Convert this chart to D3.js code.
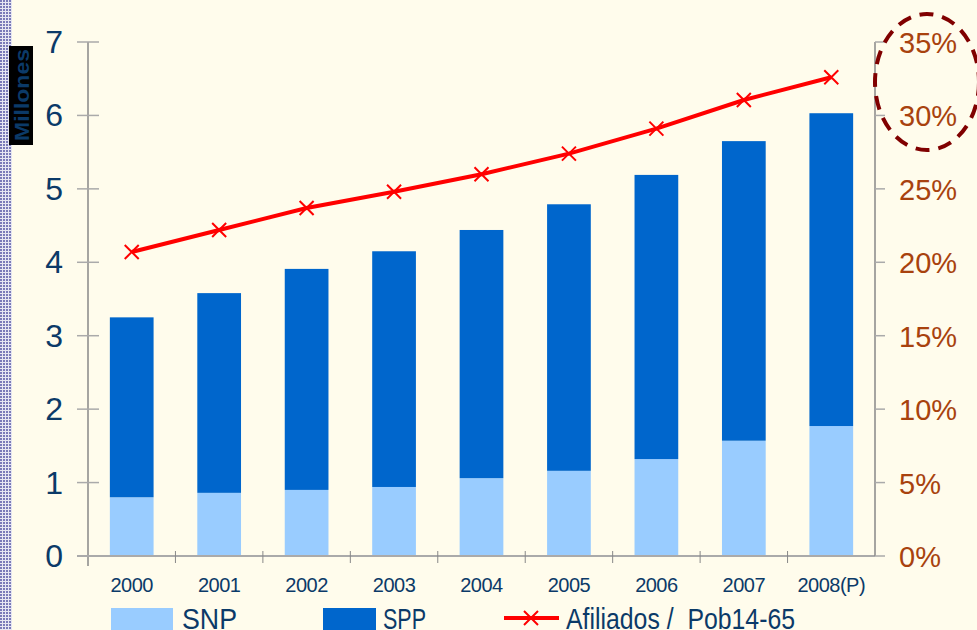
<!DOCTYPE html>
<html lang="es">
<head>
<meta charset="utf-8">
<title>Afiliados SNP / SPP</title>
<script src="https://d3js.org/d3.v7.min.js"></script>
<style>
  body { margin:0; background:#FFFCEC; }
  svg { display:block; font-family:Arial, "Liberation Sans", sans-serif; }
</style>
</head>
<body>
<svg width="977" height="630"></svg>
<script>
// data
var years = ["2000","2001","2002","2003","2004","2005","2006","2007","2008(P)"];
var snp = [0.80, 0.86, 0.90, 0.94, 1.06, 1.16, 1.32, 1.57, 1.77];
var spp = [2.45, 2.72, 3.01, 3.21, 3.38, 3.63, 3.87, 4.08, 4.26];
var ratio = [20.7, 22.2, 23.7, 24.8, 26.0, 27.4, 29.1, 31.05, 32.6];
var leftTicks = [0,1,2,3,4,5,6,7];
var rightTicks = [0,5,10,15,20,25,30,35];

var svg = d3.select("svg");
var pLeft = 88, pRight = 875, pTop = 42, pBottom = 556;

// patterned strip at the left edge
var defs = svg.append("defs");
var pat = defs.append("pattern").attr("id","grid").attr("width",3).attr("height",3)
  .attr("patternUnits","userSpaceOnUse");
pat.append("rect").attr("width",3).attr("height",3).attr("fill","#E6E6F2");
pat.append("rect").attr("width",2).attr("height",2).attr("fill","#7A7AB8");
svg.append("rect").attr("x",0).attr("y",0).attr("width",12).attr("height",630).attr("fill","url(#grid)");

var x = d3.scaleBand().domain(years).range([pLeft, pRight]).paddingInner(0.5).paddingOuter(0.25);
var xb = d3.scaleBand().domain(years).range([pLeft, pRight]);
var y = d3.scaleLinear().domain([0,7]).range([pBottom, pTop]);
var y2 = d3.scaleLinear().domain([0,35]).range([pBottom, pTop]);

// bars
var g = svg.append("g");
g.selectAll(".snp").data(years).enter().append("rect")
  .attr("x", function(d){ return x(d); })
  .attr("width", x.bandwidth())
  .attr("y", function(d,i){ return y(snp[i]); })
  .attr("height", function(d,i){ return pBottom - y(snp[i]); })
  .attr("fill","#99CCFF");
g.selectAll(".spp").data(years).enter().append("rect")
  .attr("x", function(d){ return x(d); })
  .attr("width", x.bandwidth())
  .attr("y", function(d,i){ return y(snp[i] + spp[i]); })
  .attr("height", function(d,i){ return y(snp[i]) - y(snp[i] + spp[i]); })
  .attr("fill","#0066CC");

// left axis
var axL = svg.append("g");
axL.append("line").attr("x1",pLeft).attr("x2",pLeft).attr("y1",pTop).attr("y2",pBottom+10)
  .attr("stroke","#888").attr("stroke-width",1.5);
axL.selectAll(".t").data(leftTicks).enter().append("line")
  .attr("x1",pLeft-11).attr("x2",pLeft+11)
  .attr("y1",function(d){ return y(d); }).attr("y2",function(d){ return y(d); })
  .attr("stroke","#AAA").attr("stroke-width",1.5);
axL.selectAll("text").data(leftTicks).enter().append("text")
  .attr("x",63).attr("y",function(d){ return y(d) + 11; })
  .attr("text-anchor","end").attr("font-size",32).attr("fill","#0B3A68")
  .text(function(d){ return d; });

// x axis
svg.append("line").attr("x1",pLeft-11).attr("x2",pRight).attr("y1",pBottom).attr("y2",pBottom)
  .attr("stroke","#AAA").attr("stroke-width",2);
svg.selectAll(".xt").data(years.slice(1)).enter().append("line")
  .attr("x1",function(d){ return xb(d); }).attr("x2",function(d){ return xb(d); })
  .attr("y1",pBottom-5).attr("y2",pBottom+7)
  .attr("stroke","#888").attr("stroke-width",1);
svg.selectAll(".xl").data(years).enter().append("text")
  .attr("x",function(d){ return x(d) + x.bandwidth()/2; }).attr("y",592)
  .attr("text-anchor","middle").attr("font-size",20).attr("fill","#0B3A68")
  .attr("letter-spacing",-0.5)
  .text(function(d){ return d; });

// right axis
var axR = svg.append("g");
axR.append("line").attr("x1",pRight).attr("x2",pRight).attr("y1",pTop).attr("y2",pBottom)
  .attr("stroke","#888").attr("stroke-width",1.5);
axR.selectAll(".t").data(rightTicks).enter().append("line")
  .attr("x1",pRight).attr("x2",pRight+10)
  .attr("y1",function(d){ return y2(d); }).attr("y2",function(d){ return y2(d); })
  .attr("stroke","#AAA").attr("stroke-width",1.5);
axR.selectAll("text").data(rightTicks).enter().append("text")
  .attr("x",899).attr("y",function(d){ return y2(d) + 11; })
  .attr("font-size",29).attr("fill","#A8420E")
  .text(function(d){ return d + "%"; });

// line series
var line = d3.line()
  .x(function(d,i){ return x(years[i]) + x.bandwidth()/2; })
  .y(function(d){ return y2(d); });
svg.append("path").datum(ratio).attr("d",line)
  .attr("fill","none").attr("stroke","#FF0000").attr("stroke-width",4);
var m = 7;
var marks = svg.selectAll(".mk").data(ratio).enter().append("g")
  .attr("transform",function(d,i){ return "translate(" + (x(years[i]) + x.bandwidth()/2) + "," + y2(d) + ")"; });
marks.append("path").attr("d","M"+(-m)+","+(-m)+"L"+m+","+m+"M"+(-m)+","+m+"L"+m+","+(-m))
  .attr("stroke","#FF0000").attr("stroke-width",2);

// dashed circle highlight
svg.append("ellipse").attr("cx",927).attr("cy",82).attr("rx",52).attr("ry",68)
  .attr("fill","none").attr("stroke","#800000").attr("stroke-width",4)
  .attr("stroke-dasharray","14,9");

// y title
svg.append("rect").attr("x",9).attr("y",46).attr("width",24).attr("height",99).attr("fill","#000");
svg.append("text").attr("transform","translate(29,95) rotate(-90)")
  .attr("text-anchor","middle").attr("font-size",21).attr("font-weight","bold")
  .attr("textLength",92).attr("lengthAdjust","spacingAndGlyphs")
  .attr("fill","#0B3A68").text("Millones");

// legend
var lg = svg.append("g");
lg.append("rect").attr("x",111).attr("y",608).attr("width",62).attr("height",24).attr("fill","#99CCFF");
lg.append("text").attr("x",182).attr("y",629).attr("font-size",30)
  .attr("textLength",55).attr("lengthAdjust","spacingAndGlyphs")
  .attr("fill","#0B3A68").text("SNP");
lg.append("rect").attr("x",323).attr("y",608).attr("width",53).attr("height",24).attr("fill","#0066CC");
lg.append("text").attr("x",383).attr("y",629).attr("font-size",30)
  .attr("textLength",43).attr("lengthAdjust","spacingAndGlyphs")
  .attr("fill","#0B3A68").text("SPP");
lg.append("line").attr("x1",504).attr("x2",559).attr("y1",618).attr("y2",618)
  .attr("stroke","#FF0000").attr("stroke-width",4);
lg.append("path").attr("d","M524,611L538,625M524,625L538,611").attr("stroke","#FF0000").attr("stroke-width",2);
lg.append("text").attr("x",566).attr("y",629).attr("font-size",30)
  .attr("textLength",229).attr("lengthAdjust","spacingAndGlyphs")
  .attr("fill","#0B3A68").attr("xml:space","preserve").text("Afiliados /  Pob14-65");
</script>
</body>
</html>
